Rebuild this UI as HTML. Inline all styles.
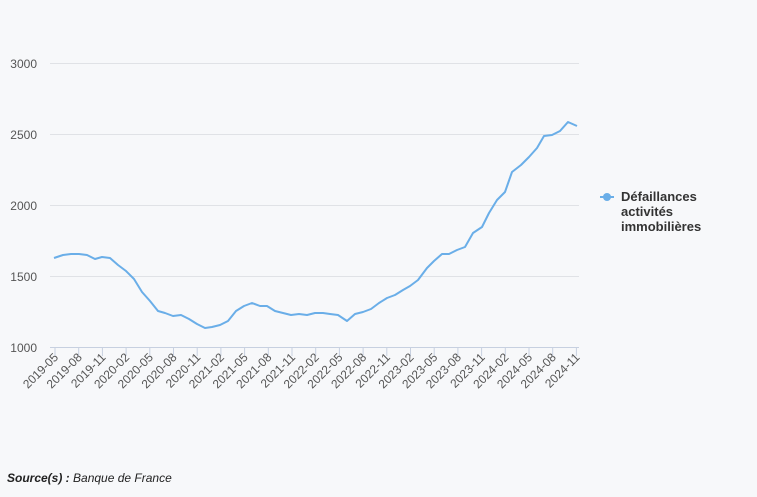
<!DOCTYPE html>
<html><head><meta charset="utf-8"><style>
body{margin:0;background:#f7f8fa;font-family:"Liberation Sans",sans-serif}
</style></head><body>
<svg width="757" height="492" xmlns="http://www.w3.org/2000/svg" font-family="Liberation Sans, sans-serif">
<rect width="757" height="492" fill="#f7f8fa"/>
<g stroke="#e0e2e6" stroke-width="1">
<line x1="50" x2="579" y1="63.5" y2="63.5"/>
<line x1="50" x2="579" y1="134.5" y2="134.5"/>
<line x1="50" x2="579" y1="205.5" y2="205.5"/>
<line x1="50" x2="579" y1="276.5" y2="276.5"/>
</g>
<line x1="50" x2="579" y1="347.5" y2="347.5" stroke="#c7d0e0"/>
<g fill="#555" font-size="12" text-anchor="end">
<text x="37" y="68">3000</text><text x="37" y="139">2500</text><text x="37" y="210">2000</text><text x="37" y="281">1500</text><text x="37" y="352">1000</text>
</g>
<g id="ticks" stroke="#c7d0e0"></g>
<g id="xl" fill="#555" font-size="12" text-anchor="end"></g>
<polyline fill="none" stroke="#6aaee8" stroke-width="2" stroke-linejoin="round" points="54,258 63,255 71,254 79,254 87,255 95,259 102,257 110,258 118,265 126,271 134,279 142,292 150,301 158,311 165,313 173,316 181,315 189,319 197,324 205,328 212,327 220,325 228,321 236,311 244,306 252,303 260,306 267,306 275,311 283,313 291,315 299,314 307,315 315,313 323,313 330,314 338,315 347,321 355,314 363,312 371,309 379,303 387,298 395,295 403,290 410,286 418,280 427,268 434,261 442,254 449,254 457,250 465,247 473,233 482,227 489,213 497,200 505,192 512,172 521,165 529,157 537,148 544,136 552,135 560,131 568,122 577,126"/>
<line x1="600" x2="614" y1="197" y2="197" stroke="#6aaee8" stroke-width="2"/>
<circle cx="607" cy="197" r="4" fill="#6aaee8"/>
<g fill="#333" font-size="13" font-weight="bold">
<text x="621" y="201">Défaillances</text><text x="621" y="216">activités</text><text x="621" y="231">immobilières</text>
</g>
<text x="7" y="482" font-size="12" font-style="italic" fill="#222"><tspan font-weight="bold">Source(s) :</tspan> Banque de France</text>
<script>
var t=document.getElementById('ticks'),l=document.getElementById('xl'),ns='http://www.w3.org/2000/svg';
var labs=['2019-05','2019-08','2019-11','2020-02','2020-05','2020-08','2020-11','2021-02','2021-05','2021-08','2021-11','2022-02','2022-05','2022-08','2022-11','2023-02','2023-05','2023-08','2023-11','2024-02','2024-05','2024-08','2024-11'];
labs.forEach(function(s,i){var x=55+i*3*7.9;
var ln=document.createElementNS(ns,'line');ln.setAttribute('x1',x);ln.setAttribute('x2',x);ln.setAttribute('y1',348);ln.setAttribute('y2',356);t.appendChild(ln);
var tx=document.createElementNS(ns,'text');tx.setAttribute('transform','translate('+(x+4)+',358) rotate(-45)');tx.textContent=s;l.appendChild(tx);});
</script>
</svg>
</body></html>
